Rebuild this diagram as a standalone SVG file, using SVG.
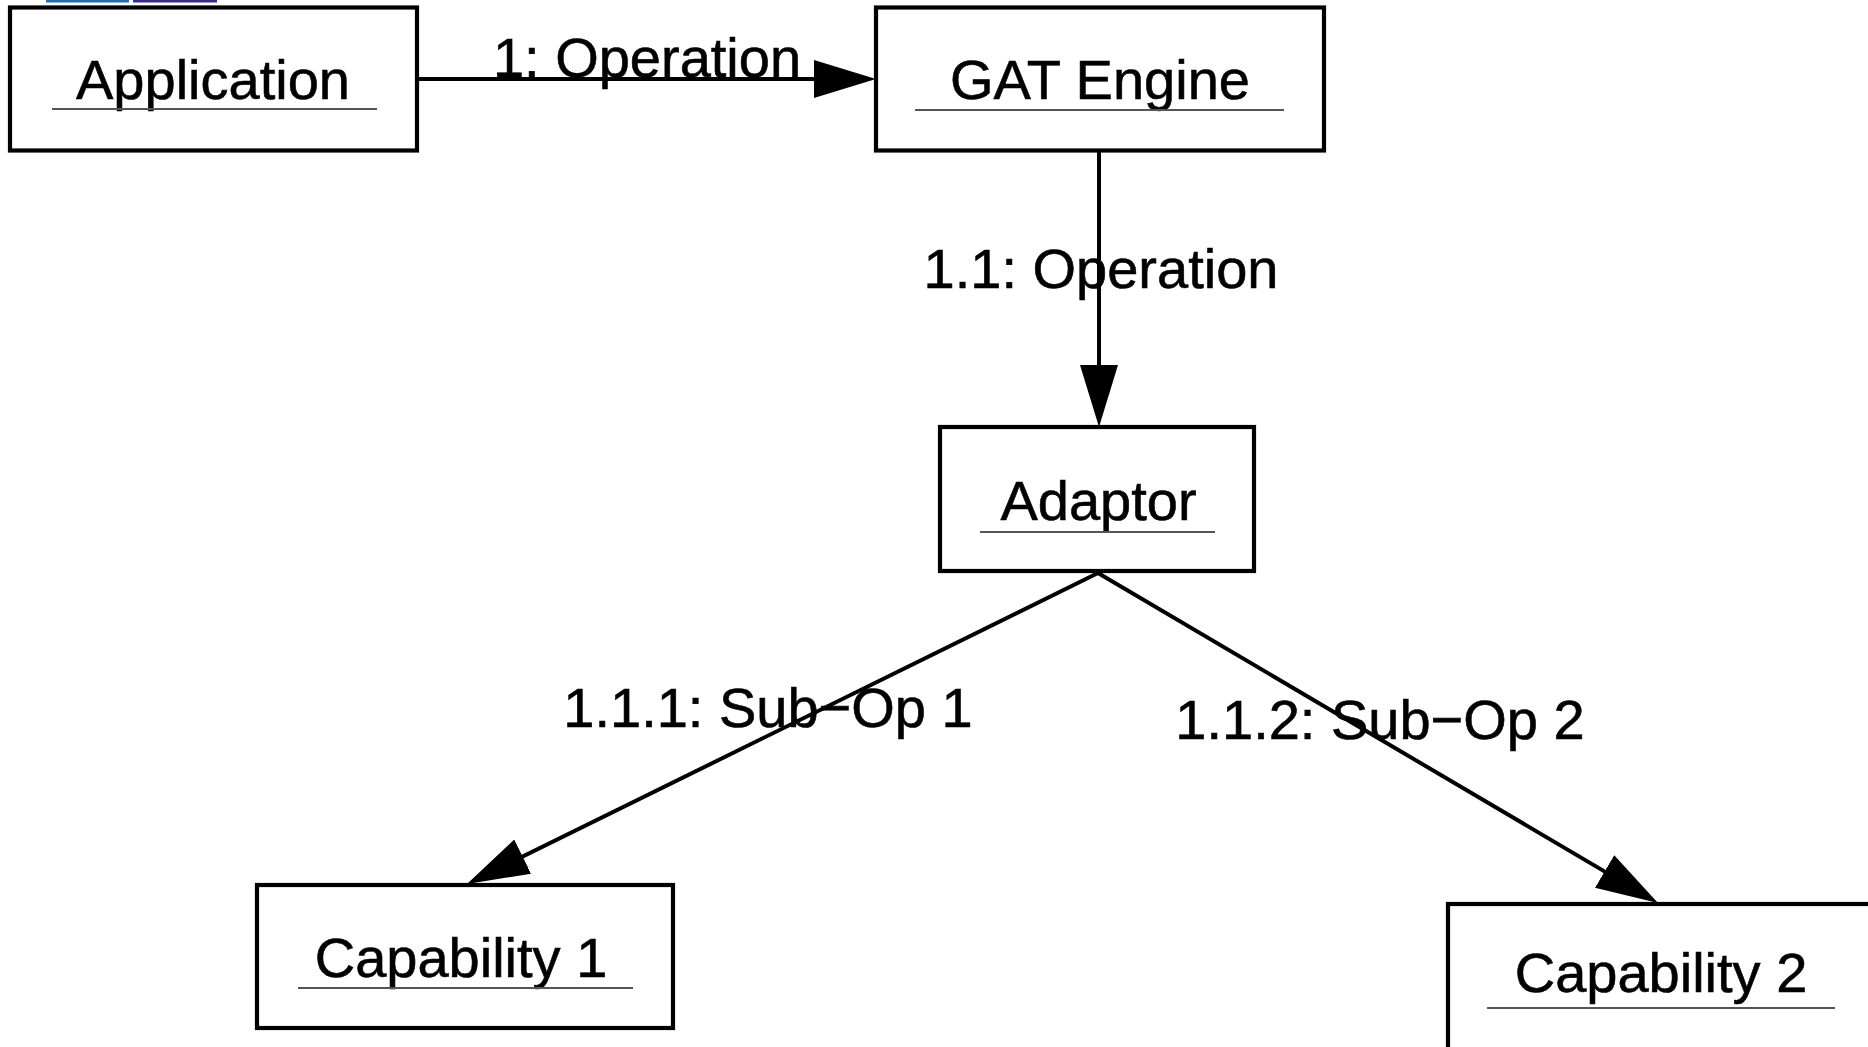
<svg xmlns="http://www.w3.org/2000/svg" width="1868" height="1047" viewBox="0 0 1868 1047">
  <style>
    .box { fill: #ffffff; stroke: #000000; stroke-width: 4.2; }
    .ul { stroke: #555555; stroke-width: 1.8; }
    .t { font-family: "Liberation Sans", Arial, Helvetica, sans-serif; font-size: 56px; fill: #000000; text-anchor: middle; stroke: #000000; stroke-width: 0.6; }
    .edge { fill: none; stroke: #000000; stroke-width: 4; }
  </style>
  <defs>
    <marker id="arrow" markerUnits="userSpaceOnUse" markerWidth="64" markerHeight="40" refX="52" refY="19" orient="auto">
      <path d="M0,0 L62,19 L0,38 z" fill="#000000"/>
    </marker>
  </defs>
  <rect width="1868" height="1047" fill="#ffffff"/>
  <g id="header-slivers">
    <rect x="46" y="0" width="83" height="2.5" fill="#1f6fb2"/>
    <rect x="133" y="0" width="84" height="2.5" fill="#3a2c8c"/>
  </g>
  <g id="connectors">
    <path class="edge" d="M417,79 L866,79" marker-end="url(#arrow)"/>
    <path class="edge" d="M1099,151 L1099,417" marker-end="url(#arrow)"/>
    <path class="edge" d="M1098,573 L476,879.6" marker-end="url(#arrow)"/>
    <path class="edge" d="M1098,573 L1649.4,897.9" marker-end="url(#arrow)"/>
    <text class="t" x="647" y="77">1: Operation</text>
    <text class="t" x="1101" y="288">1.1: Operation</text>
    <text class="t" x="768" y="727">1.1.1: Sub−Op 1</text>
    <text class="t" x="1380" y="739">1.1.2: Sub−Op 2</text>
  </g>
  <g id="node-application">
    <rect class="box" x="10" y="7.5" width="407" height="143"/>
    <text class="t" x="213" y="99">Application</text>
    <line class="ul" x1="52" y1="109" x2="377" y2="109"/>
  </g>
  <g id="node-gat-engine">
    <rect class="box" x="876" y="7.5" width="448" height="143"/>
    <text class="t" x="1100" y="99">GAT Engine</text>
    <line class="ul" x1="915" y1="110" x2="1284" y2="110"/>
  </g>
  <g id="node-adaptor">
    <rect class="box" x="940" y="427" width="314" height="144"/>
    <text class="t" x="1098.5" y="520">Adaptor</text>
    <line class="ul" x1="980" y1="532" x2="1215" y2="532"/>
  </g>
  <g id="node-capability-1">
    <rect class="box" x="257" y="885" width="416" height="143"/>
    <text class="t" x="461" y="977">Capability 1</text>
    <line class="ul" x1="298" y1="988" x2="633" y2="988"/>
  </g>
  <g id="node-capability-2">
    <rect class="box" x="1448" y="904" width="424" height="146"/>
    <text class="t" x="1661" y="992">Capability 2</text>
    <line class="ul" x1="1487" y1="1008" x2="1835" y2="1008"/>
  </g>
</svg>
